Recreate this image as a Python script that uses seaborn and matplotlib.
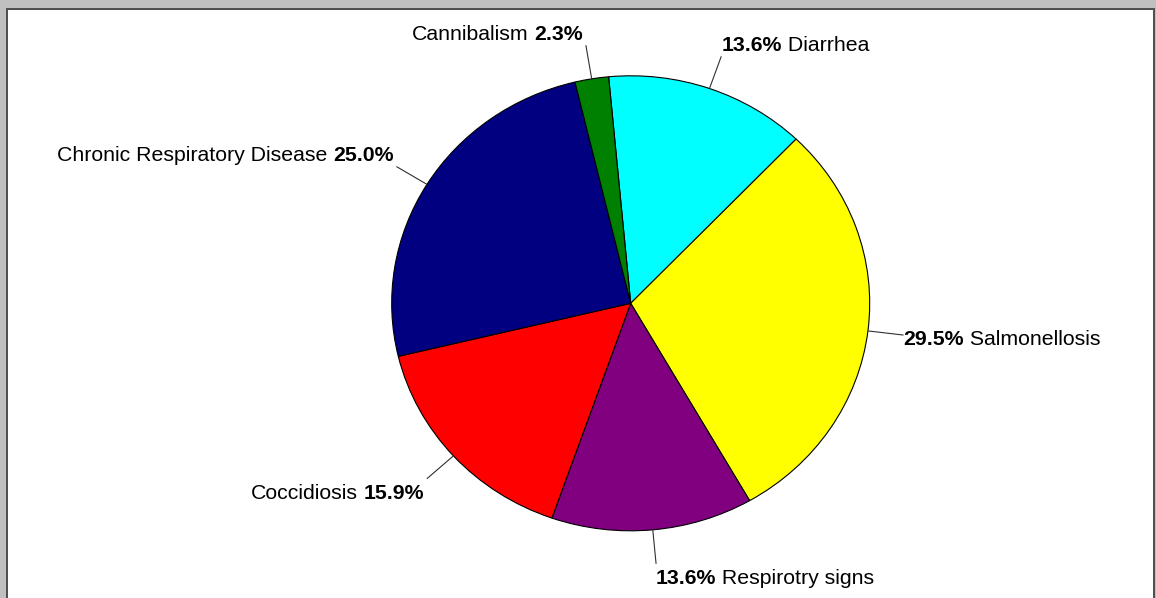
import matplotlib
matplotlib.use("Agg")
import matplotlib.pyplot as plt
from matplotlib.patches import Rectangle
import numpy as np
import seaborn as sns

# Case counts per condition (clockwise from the top)
conditions = ["Diarrhea", "Salmonellosis", "Respirotry signs", "Coccidiosis",
              "Chronic Respiratory Disease", "Cannibalism"]
cases = [6, 13, 6, 7, 11, 1]
slice_colors = ["#00FFFF", "#FFFF00", "#800080", "#FF0000", "#000080", "#008000"]

sns.set_style("white")
plt.rcParams["font.family"] = ["Liberation Sans", "DejaVu Sans"]

W, H = 1156, 598
fig = plt.figure(figsize=(W / 100, H / 100), dpi=100)
fig.patch.set_facecolor("white")
ax = fig.add_axes([0, 0, 1, 1])

total = sum(cases)
wedges, _ = ax.pie(cases, colors=slice_colors, startangle=95.3, counterclock=False,
                   wedgeprops=dict(edgecolor="black", linewidth=0.8))

# pie centre at (630.7, 303.3) px, radii 239 x 227.5 px
cx, cy, rx, ry = 630.7, 303.3, 239.0, 227.5
ax.set_aspect("auto")
ax.set_xlim(-cx / rx, (W - cx) / rx)
ax.set_ylim((cy - H) / ry, cy / ry)
ax.axis("off")

fs = 15.3
for w, name, n in zip(wedges, conditions, cases):
    pct = f"{n / total * 100:.1f}%"
    ang = np.deg2rad((w.theta1 + w.theta2) / 2)
    x, y = np.cos(ang), np.sin(ang)
    ex, ey = 1.15 * x, 1.15 * y
    ax.plot([x, ex], [y, ey], color="#303030", lw=0.8, solid_capstyle="butt")
    # baseline shift (pixels, upward positive) relative to the leader end
    if y > 0.3:
        dy = 5.5
    elif y < -0.3:
        dy = -20
    else:
        dy = -10
    if x > 0:
        t1 = ax.annotate(pct, xy=(ex, ey), xytext=(0, dy), textcoords="offset pixels",
                         ha="left", va="baseline", fontsize=fs, fontweight="bold",
                         color="black")
        ax.annotate(" " + name, xy=(1, 0), xycoords=t1, ha="left", va="bottom",
                    fontsize=fs, color="black")
    else:
        t1 = ax.annotate(pct, xy=(ex, ey), xytext=(-2.5, dy), textcoords="offset pixels",
                         ha="right", va="baseline", fontsize=fs, fontweight="bold",
                         color="black")
        ax.annotate(name, xy=(0, 0), xycoords=t1, xytext=(-6, 0),
                    textcoords="offset pixels", ha="right", va="bottom",
                    fontsize=fs, color="black")


def px_rect(x0, y0, x1, y1, color):
    # rectangle given in pixel coordinates measured from the top-left corner
    fig.add_artist(Rectangle((x0 / W, 1 - y1 / H), (x1 - x0) / W, (y1 - y0) / H,
                             transform=fig.transFigure, facecolor=color,
                             edgecolor="none", zorder=10))


# window frame
px_rect(0, 0, W, 8, "#C0C0C0")
px_rect(0, 0, 6, H, "#C0C0C0")
px_rect(1155, 0, W, H, "#C0C0C0")
px_rect(6, 8, 1155, 10, "#505050")
px_rect(6, 8, 8, H, "#505050")
px_rect(1153, 8, 1155, H, "#505050")

fig.savefig("out.png", dpi=100, facecolor="white")
